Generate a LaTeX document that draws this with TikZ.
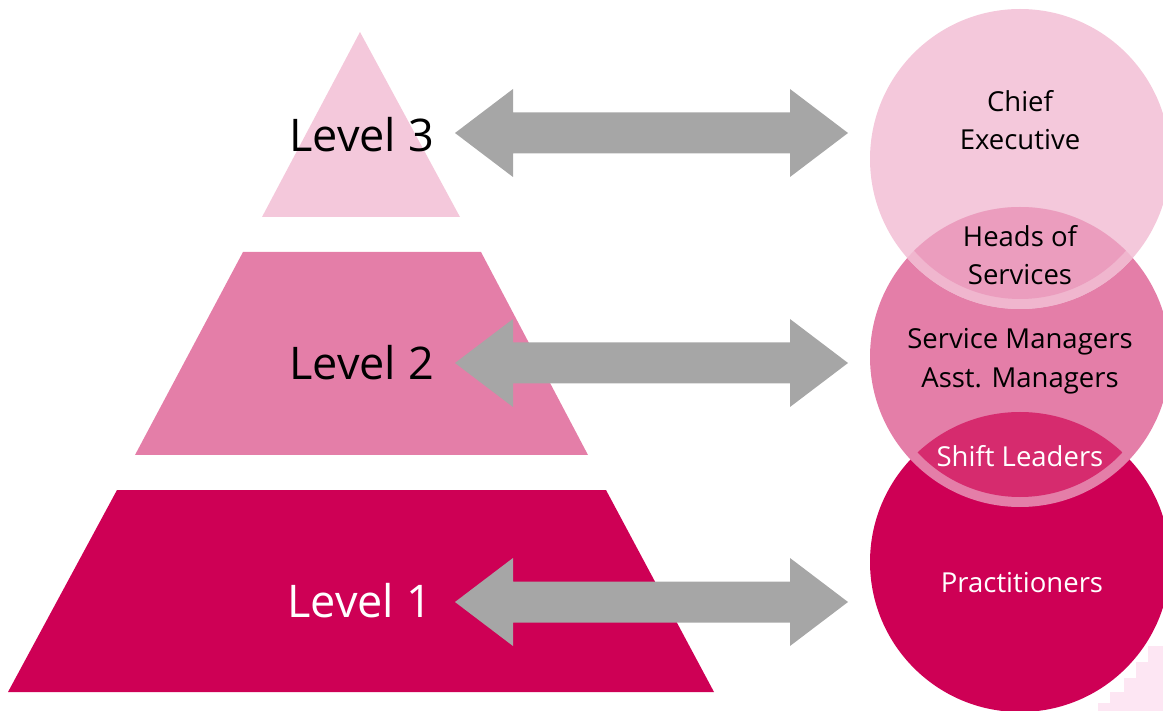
\documentclass[tikz,border=0pt]{standalone}
\usepackage{fontspec}
\setmainfont{Open Sans}
\usetikzlibrary{calc,backgrounds}
\definecolor{lvlone}{RGB}{206,0,85}
\definecolor{lvltwo}{RGB}{228,126,168}
\definecolor{lvlthree}{RGB}{244,200,219}
\definecolor{lensupper}{RGB}{235,157,190}
\definecolor{lensband}{RGB}{240,182,206}
\definecolor{lenslower}{RGB}{214,43,110}
\definecolor{haze}{RGB}{253,230,243}
\newcommand{\arrowcolor}{black!35}
\newcommand{\rad}{150}
\newcommand{\band}{10}
% block arrow with a head at both ends
\newcommand{\dblarrow}[2]{
\fill[\arrowcolor] (#1) -- ++(58,-44) -- ++(0,23.5) -- ($(#2)+(-58,-20.5)$) -- ++(0,-23.5) -- (#2)
 -- ++(-58,44) -- ++(0,-23.5) -- ($(#1)+(58,20.5)$) -- ++(0,23.5) -- cycle;
}
\tikzset{
 leveltext/.style={font=\fontsize{45}{54}\selectfont, anchor=east, inner sep=0},
 circtext/.style={font=\fontsize{27.5}{38.5}\selectfont, align=center, inner sep=0}
}

\begin{document}
\begin{tikzpicture}[x=1pt, y=-1pt]
\useasboundingbox (0,0) rectangle (1163,711);
\clip (0,0) rectangle (1163,711);
%pyramid
\coordinate (t1) at (360,32);
\coordinate (t2) at (460,217);
\coordinate (t3) at (262,217);
\coordinate (m1) at (243,252);
\coordinate (m2) at (481,252);
\coordinate (m3) at (588,455);
\coordinate (m4) at (135,455);
\coordinate (b1) at (117,490);
\coordinate (b2) at (606,490);
\coordinate (b3) at (714,692);
\coordinate (b4) at (8,692);
\fill[lvlthree] (t1) -- (t2) -- (t3) -- cycle;
\fill[lvltwo] (m1) -- (m2) -- (m3) -- (m4) -- cycle;
\fill[lvlone] (b1) -- (b2) -- (b3) -- (b4) -- cycle;
\node[leveltext] (3) at (434,135) {Level 3};
\node[leveltext] (2) at (434,363) {Level 2};
\node[leveltext, white] (1) at (432,601) {Level 1};
%circles
\coordinate (c1) at (1020,562);
\coordinate (c2) at (1020,357);
\coordinate (c3) at (1020,159);
\fill[haze] (1163,632) -- (1163,711) -- (1098,711) -- (1098,703) -- (1110,703) -- (1110,692)
 -- (1124,692) -- (1124,678) -- (1136,678) -- (1136,662) -- (1148,662) -- (1148,646) -- (1163,646) -- cycle;
\fill[lvlone] (c1) circle (\rad);
\fill[lvltwo] (c2) circle (\rad);
\begin{scope}
\clip (c1) circle (\rad);
\fill[lenslower] (c2) circle (\rad - \band);
\end{scope}
\fill[lvlthree] (c3) circle (\rad);
\begin{scope}
\clip (c2) circle (\rad);
\fill[lensband] (c3) circle (\rad);
\fill[lensupper] (c3) circle (\rad - \band);
\end{scope}
\node[circtext] (ce) at (1020,120) {Chief\\Executive};
\node[circtext] (hs) at (1020,255) {Heads of\\Services};
\node[circtext] (sm) at (1020,361) {Service Managers\\Asst. Managers};
\node[circtext, white] (sl) at (1020,456) {Shift Leaders};
\node[circtext, white] (pr) at (1022,583) {Practitioners};
%arrows
\coordinate (a3l) at (455,133);
\coordinate (a3r) at (848,133);
\coordinate (a2l) at (455,363);
\coordinate (a2r) at (848,363);
\coordinate (a1l) at (455,602);
\coordinate (a1r) at (848,602);
\dblarrow{a3l}{a3r}
\dblarrow{a2l}{a2r}
\dblarrow{a1l}{a1r}
\end{tikzpicture}
\end{document}
